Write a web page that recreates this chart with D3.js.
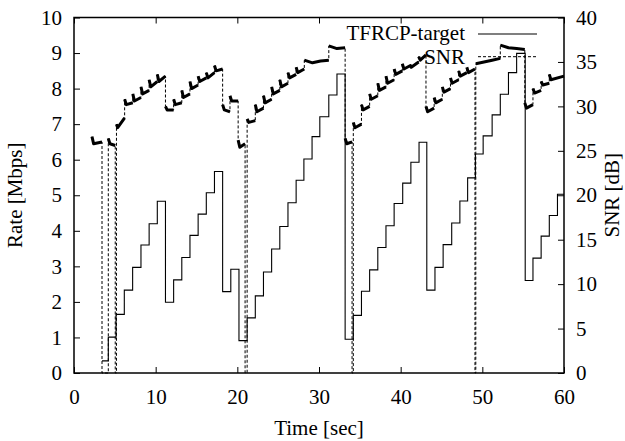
<!DOCTYPE html>
<html>
<head>
<meta charset="utf-8">
<script src="https://cdn.jsdelivr.net/npm/d3@7"></script>
<style>
html,body{margin:0;padding:0;background:#fff;}
svg text{font-family:"Liberation Serif","Times New Roman",serif;}
</style>
</head>
<body>
<svg id="chart" width="625" height="441"></svg>
<script>
// ---- data ----
const xTicks = [0, 10, 20, 30, 40, 50, 60];
const rateTicks = [0, 1, 2, 3, 4, 5, 6, 7, 8, 9, 10];
const snrTicks = [0, 5, 10, 15, 20, 25, 30, 35, 40];

// TFRCP-target: [time (s), rate (Mbps)], step changes
const targetSteps = [
  [3.43, 0.34], [4.2, 1.01], [5.15, 1.65], [6.16, 2.33], [7.18, 2.97], [8.2, 3.6],
  [9.2, 4.2], [10.2, 4.83], [11.2, 1.99], [12.2, 2.62], [13.2, 3.25], [14.2, 3.87],
  [15.2, 4.47], [16.2, 5.07], [17.2, 5.67], [18.2, 2.29], [19.2, 2.92], [20.2, 0.91],
  [21.2, 1.55], [22.2, 2.17], [23.2, 2.84], [24.2, 3.49], [25.2, 4.12], [26.2, 4.79],
  [27.2, 5.42], [28.15, 6.02], [29.15, 6.65], [30.1, 7.21], [31.2, 7.82], [32.2, 8.41],
  [33.2, 0.95], [34.2, 1.62], [35.2, 2.3], [36.2, 2.9], [37.2, 3.53], [38.2, 4.14],
  [39.2, 4.77], [40.25, 5.34], [41.25, 5.93], [42.25, 6.49], [43.2, 2.33], [44.2, 2.97],
  [45.2, 3.61], [46.25, 4.22], [47.25, 4.84], [48.2, 5.49], [49.15, 6.16], [50.1, 6.67],
  [51.2, 7.26], [52.2, 7.84], [53.2, 8.45], [54.2, 8.99], [55.25, 2.6], [56.2, 3.23],
  [57.2, 3.85], [58.2, 4.43], [59.2, 5.03], [60, 5.03]
];

// SNR: [time (s), SNR (dB)]
const snrPoints = [
  [2.2, 26.6], [2.4, 25.8], [3.43, 26.0],
  [3.43, 0], [4.2, 0],
  [4.2, 26.4], [4.4, 25.8], [5.05, 25.6],
  [5.05, 0], [5.2, 0],
  [5.2, 28.0], [5.35, 27.6], [6.2, 28.7],
  [6.2, 30.8], [6.4, 30.2], [7.2, 30.4],
  [7.2, 31.4], [7.4, 30.6], [8.2, 31.0],
  [8.2, 32.2], [8.4, 31.4], [9.2, 31.8],
  [9.2, 33.0], [9.4, 32.2], [10.2, 32.8],
  [10.2, 33.6], [10.4, 32.8], [11.2, 33.4],
  [11.2, 30.0], [11.4, 29.6], [12.2, 29.6],
  [12.2, 30.8], [12.4, 30.2], [13.2, 30.4],
  [13.2, 31.8], [13.4, 31.0], [14.2, 31.4],
  [14.2, 32.8], [14.4, 32.0], [15.2, 32.4],
  [15.2, 33.4], [15.4, 32.8], [16.2, 33.2],
  [16.2, 33.8], [16.4, 33.2], [17.2, 33.8],
  [17.2, 34.6], [17.4, 34.0], [18.2, 34.2],
  [18.2, 30.2], [18.4, 29.6], [19.1, 29.4],
  [19.1, 31.2], [19.3, 30.6], [20.1, 30.6],
  [20.1, 26.2], [20.3, 25.4], [20.95, 25.8],
  [20.95, 0], [21.2, 0],
  [21.2, 28.6], [21.4, 28.2], [22.2, 28.4],
  [22.2, 30.2], [22.4, 29.4], [23.2, 29.8],
  [23.2, 31.2], [23.4, 30.4], [24.2, 30.8],
  [24.2, 32.2], [24.4, 31.4], [25.2, 31.8],
  [25.2, 33.0], [25.4, 32.2], [26.2, 32.6],
  [26.2, 33.8], [26.4, 33.2], [27.2, 33.6],
  [27.2, 34.4], [27.4, 33.8], [28.2, 34.2],
  [28.2, 35.2], [29.2, 34.9], [30.2, 35.1], [31.2, 35.2],
  [31.2, 36.8], [32.2, 36.5], [33.2, 36.6],
  [33.2, 26.4], [33.4, 25.8], [34.05, 26.0],
  [34.05, 0], [34.2, 0],
  [34.2, 28.2], [34.4, 27.6], [35.2, 28.0],
  [35.2, 30.2], [35.4, 29.6], [36.2, 30.0],
  [36.2, 31.4], [36.4, 30.8], [37.2, 31.2],
  [37.2, 32.6], [37.4, 31.8], [38.2, 32.2],
  [38.2, 33.4], [38.4, 32.6], [39.2, 33.0],
  [39.2, 34.2], [39.4, 33.6], [40.2, 34.0],
  [40.2, 34.8], [40.4, 34.2], [41.2, 34.6], [41.3, 34.4], [42.2, 35.0],
  [42.2, 35.6], [42.4, 35.2], [43.1, 35.8],
  [43.1, 30.0], [43.3, 29.4], [44.1, 29.8],
  [44.1, 31.0], [44.3, 30.4], [45.1, 30.8],
  [45.1, 32.2], [45.3, 31.6], [46.1, 32.0],
  [46.1, 33.2], [46.3, 32.6], [47.1, 33.0],
  [47.1, 34.0], [47.3, 33.4], [48.1, 33.8],
  [48.1, 34.4], [48.3, 33.8], [49.1, 34.2],
  [49.1, 0], [49.2, 0],
  [49.2, 34.8], [50.2, 35.0], [51.2, 35.2], [52.2, 35.4],
  [52.2, 36.9], [53.2, 36.6], [54.2, 36.5], [55.2, 36.4],
  [55.2, 30.4], [55.4, 29.8], [56.2, 30.2],
  [56.2, 32.0], [56.4, 31.5], [57.2, 31.8],
  [57.2, 32.8], [57.4, 32.4], [58.2, 32.6],
  [58.2, 33.6], [58.4, 33.0], [60, 33.4]
];

const seriesNames = ["TFRCP-target", "SNR"];

// ---- layout ----
const svg = d3.select("#chart");
const L = 74, R = 564, T = 17.5, B = 373;
const FS = 21;

const x = d3.scaleLinear().domain([0, 60]).range([L, R]);
const yRate = d3.scaleLinear().domain([0, 10]).range([B, T]);
const ySnr = d3.scaleLinear().domain([0, 40]).range([B, T]);

function styleAxis(g) {
  g.select(".domain").remove();
  g.selectAll("line").attr("stroke", "#000").attr("stroke-width", 1);
  g.selectAll("text").attr("font-size", FS).attr("fill", "#000")
    .attr("font-family", "Liberation Serif");
}

// bottom axis
svg.append("g").attr("transform", `translate(0,${B})`)
  .call(d3.axisBottom(x).tickValues(xTicks).tickSizeInner(-6).tickSizeOuter(0).tickPadding(16))
  .call(styleAxis);
// top mirrored ticks
svg.append("g").attr("transform", `translate(0,${T})`)
  .call(d3.axisTop(x).tickValues(xTicks).tickSizeInner(-6).tickSizeOuter(0).tickFormat(""))
  .call(styleAxis);
// left axis
svg.append("g").attr("transform", `translate(${L},0)`)
  .call(d3.axisLeft(yRate).tickValues(rateTicks).tickSizeInner(-6).tickSizeOuter(0).tickPadding(12))
  .call(styleAxis);
// right axis
svg.append("g").attr("transform", `translate(${R},0)`)
  .call(d3.axisRight(ySnr).tickValues(snrTicks).tickSizeInner(-6).tickSizeOuter(0).tickPadding(12))
  .call(styleAxis);

// ---- series ----
const stepLine = d3.line().x(d => x(d[0])).y(d => yRate(d[1])).curve(d3.curveStepAfter);
svg.append("path").datum(targetSteps)
  .attr("d", stepLine).attr("fill", "none").attr("stroke", "#000").attr("stroke-width", 1.1);

const snrLine = d3.line().x(d => x(d[0])).y(d => ySnr(d[1]));
// full SNR trace, dashed
svg.append("path").datum(snrPoints)
  .attr("d", snrLine).attr("fill", "none").attr("stroke", "#000")
  .attr("stroke-width", 1).attr("stroke-dasharray", "3,2");
// dense noisy plateaus drawn as a thick trace
const plateaus = [];
let cur = [];
for (let i = 0; i < snrPoints.length; i++) {
  const p = snrPoints[i];
  if (cur.length && (p[0] === cur[cur.length - 1][0] || p[1] === 0)) {
    if (cur.length > 1) plateaus.push(cur);
    cur = [];
  }
  if (p[1] > 0) cur.push(p);
}
if (cur.length > 1) plateaus.push(cur);
svg.append("g").selectAll("path").data(plateaus).join("path")
  .attr("d", snrLine).attr("fill", "none").attr("stroke", "#000")
  .attr("stroke-width", 3).attr("stroke-linejoin", "round");

// ---- frame ----
svg.append("rect").attr("x", L).attr("y", T).attr("width", R - L).attr("height", B - T)
  .attr("fill", "none").attr("stroke", "#000").attr("stroke-width", 1.5);

// ---- legend ----
const lg = svg.append("g");
lg.append("text").attr("x", 465).attr("y", 40).attr("text-anchor", "end")
  .attr("font-size", FS).text(seriesNames[0]);
lg.append("line").attr("x1", 478).attr("x2", 537).attr("y1", 34).attr("y2", 34)
  .attr("stroke", "#000").attr("stroke-width", 1.1);
lg.append("text").attr("x", 465).attr("y", 63.5).attr("text-anchor", "end")
  .attr("font-size", FS).text(seriesNames[1]);
lg.append("line").attr("x1", 478).attr("x2", 537).attr("y1", 56.7).attr("y2", 56.7)
  .attr("stroke", "#000").attr("stroke-width", 1).attr("stroke-dasharray", "3,2");

// ---- axis titles ----
svg.append("text").attr("x", (L + R) / 2).attr("y", 435).attr("text-anchor", "middle")
  .attr("font-size", FS).text("Time [sec]");
svg.append("text").attr("transform", `translate(22,${(T + B) / 2}) rotate(-90)`)
  .attr("text-anchor", "middle").attr("font-size", FS).text("Rate [Mbps]");
svg.append("text").attr("transform", `translate(619,${(T + B) / 2}) rotate(-90)`)
  .attr("text-anchor", "middle").attr("font-size", FS).text("SNR [dB]");
</script>
</body>
</html>
